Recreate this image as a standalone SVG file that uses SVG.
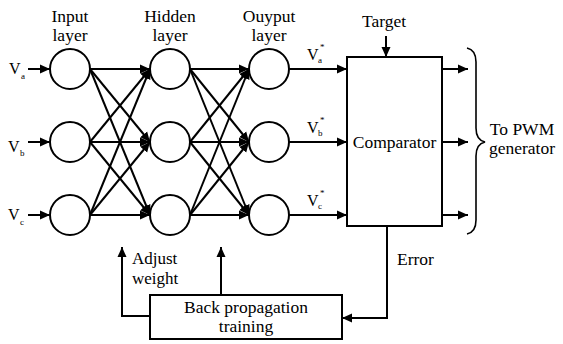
<svg xmlns="http://www.w3.org/2000/svg" width="563" height="344" viewBox="0 0 563 344">
<style>
.t{font-family:"Liberation Serif","DejaVu Serif","Noto Serif","Times New Roman",Times,serif;fill:#000}
.lbl{font-size:17.5px}
.aw{font-size:17px}
.v{font-size:16px}
.sub{font-size:9px}
.n{fill:#fff;stroke:#000;stroke-width:2}
.c{fill:none;stroke:#000;stroke-width:2}
</style>
<defs>
<marker id="ah" markerUnits="userSpaceOnUse" markerWidth="11" markerHeight="10" refX="10" refY="5" orient="auto">
<path d="M0,0.5 L10,5 L0,9.5 z" fill="#000"/>
</marker>
</defs>
<rect width="563" height="344" fill="#fff"/>
<g id="connectors" class="c" marker-end="url(#ah)">
<line x1="28" y1="69" x2="50" y2="69"/>
<line x1="28" y1="142" x2="50" y2="142"/>
<line x1="28" y1="215" x2="50" y2="215"/>
<line x1="90" y1="69" x2="150" y2="69"/>
<line x1="90" y1="69" x2="150" y2="142"/>
<line x1="90" y1="69" x2="150" y2="215"/>
<line x1="90" y1="142" x2="150" y2="69"/>
<line x1="90" y1="142" x2="150" y2="142"/>
<line x1="90" y1="142" x2="150" y2="215"/>
<line x1="90" y1="215" x2="150" y2="69"/>
<line x1="90" y1="215" x2="150" y2="142"/>
<line x1="90" y1="215" x2="150" y2="215"/>
<line x1="190" y1="69" x2="249" y2="69"/>
<line x1="190" y1="69" x2="249" y2="142"/>
<line x1="190" y1="69" x2="249" y2="215"/>
<line x1="190" y1="142" x2="249" y2="69"/>
<line x1="190" y1="142" x2="249" y2="142"/>
<line x1="190" y1="142" x2="249" y2="215"/>
<line x1="190" y1="215" x2="249" y2="69"/>
<line x1="190" y1="215" x2="249" y2="142"/>
<line x1="190" y1="215" x2="249" y2="215"/>
<line x1="289" y1="69" x2="347" y2="69"/>
<line x1="289" y1="142" x2="347" y2="142"/>
<line x1="289" y1="215" x2="347" y2="215"/>
<line x1="386" y1="36" x2="386" y2="57"/>
<line x1="442" y1="69" x2="468" y2="69"/>
<line x1="442" y1="142" x2="468" y2="142"/>
<line x1="442" y1="215" x2="468" y2="215"/>
<polyline points="387,226 387,318 342,318"/>
<polyline points="150,316 122,316 122,247"/>
<line x1="221" y1="295" x2="221" y2="247"/>
</g>
<path d="M467,48 Q476,50 476,62 L476,128 Q476,140 485,142 Q476,144 476,156 L476,220 Q476,232 467,234" fill="none" stroke="#000" stroke-width="1.6"/>
<g id="in_a"><circle class="n" cx="70" cy="69" r="20"/></g>
<g id="in_b"><circle class="n" cx="70" cy="142" r="20"/></g>
<g id="in_c"><circle class="n" cx="70" cy="215" r="20"/></g>
<g id="hid_a"><circle class="n" cx="170" cy="69" r="20"/></g>
<g id="hid_b"><circle class="n" cx="170" cy="142" r="20"/></g>
<g id="hid_c"><circle class="n" cx="170" cy="215" r="20"/></g>
<g id="out_a"><circle class="n" cx="269" cy="69" r="20"/></g>
<g id="out_b"><circle class="n" cx="269" cy="142" r="20"/></g>
<g id="out_c"><circle class="n" cx="269" cy="215" r="20"/></g>
<g id="comparator"><rect class="n" x="347" y="57" width="95" height="169"/><text class="t lbl" x="394.5" y="148" text-anchor="middle">Comparator</text></g>
<g id="backprop"><rect class="n" x="150" y="295" width="192" height="44"/><text class="t lbl" x="246" y="313" text-anchor="middle">Back propagation</text><text class="t lbl" x="246" y="332" text-anchor="middle">training</text></g>
<g id="labels">
<text class="t lbl" x="70" y="22" text-anchor="middle">Input</text>
<text class="t lbl" x="70" y="41" text-anchor="middle">layer</text>
<text class="t lbl" x="170" y="22" text-anchor="middle">Hidden</text>
<text class="t lbl" x="170" y="41" text-anchor="middle">layer</text>
<text class="t lbl" x="269" y="22" text-anchor="middle">Ouyput</text>
<text class="t lbl" x="269" y="41" text-anchor="middle">layer</text>
<text class="t lbl" x="384" y="27" text-anchor="middle">Target</text>
<text class="t lbl" x="397" y="265">Error</text>
<text class="t aw" x="132" y="264">Adjust</text>
<text class="t aw" x="132" y="284">weight</text>
<text class="t lbl" x="522" y="135" text-anchor="middle">To PWM</text>
<text class="t lbl" x="522" y="154" text-anchor="middle">generator</text>
<text class="t v" x="9" y="74">V</text><text class="t sub" x="21" y="79">a</text>
<text class="t v" x="8" y="152">V</text><text class="t sub" x="20" y="156">b</text>
<text class="t v" x="8" y="220">V</text><text class="t sub" x="20" y="225">c</text>
<text class="t v" x="307" y="60">V</text><text class="t sub" x="318" y="63">a</text><text class="t sub" x="320" y="50">*</text>
<text class="t v" x="307" y="133">V</text><text class="t sub" x="318" y="136">b</text><text class="t sub" x="320" y="123">*</text>
<text class="t v" x="307" y="206">V</text><text class="t sub" x="318" y="209">c</text><text class="t sub" x="320" y="196">*</text>
</g>
</svg>
